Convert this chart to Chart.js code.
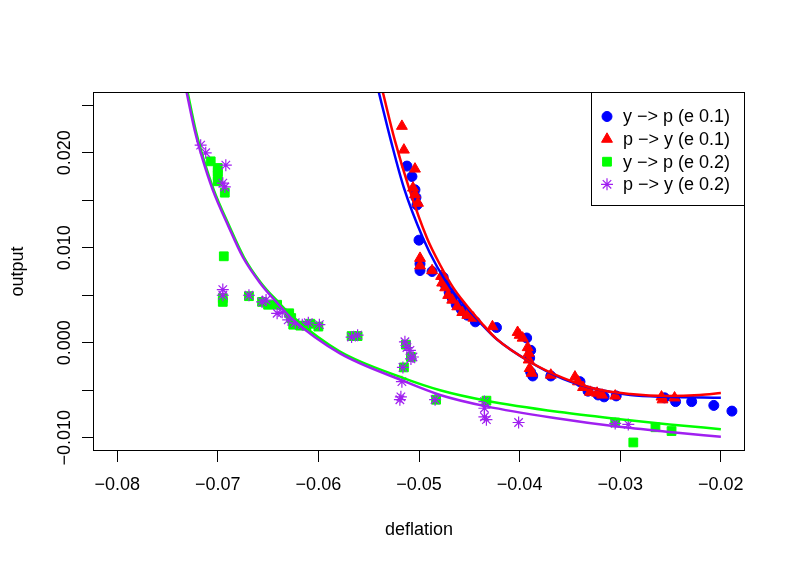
<!DOCTYPE html>
<html>
<head>
<meta charset="utf-8">
<script src="https://cdn.jsdelivr.net/npm/chart.js@4.4.0/dist/chart.umd.min.js"></script>
<style>
  body { margin: 0; background: #fff; }
  #wrap { width: 793px; height: 566px; }
</style>
</head>
<body>
<div id="wrap"><canvas id="chart" width="793" height="566"></canvas></div>
<script>
// === data: deflation (x) vs output (y) === //

const seriesLabels = ['y \u2212> p (e 0.1)', 'p \u2212> y (e 0.1)', 'y \u2212> p (e 0.2)', 'p \u2212> y (e 0.2)']
const seriesColors = ['#0000FF', '#FF0000', '#00FF00', '#A020F0']

const yToP1X = [-0.0512,-0.0507,-0.0504,-0.0503,-0.0502,-0.0500,-0.0499,-0.0499,-0.0487,-0.0476,-0.0474,-0.0470,-0.0467,-0.0463,-0.0458,-0.0452,-0.0444,-0.0423,-0.0393,-0.0389,-0.0390,-0.0389,-0.0387,-0.0369,-0.0340,-0.0332,-0.0322,-0.0316,-0.0304,-0.0256,-0.0245,-0.0229,-0.0207,-0.0189]
const yToP1Y = [0.0186,0.0175,0.0161,0.0153,0.0145,0.0108,0.0083,0.0076,0.0075,0.0069,0.0061,0.0053,0.0047,0.0040,0.0035,0.0029,0.0022,0.0016,0.0005,-0.0008,-0.0016,-0.0031,-0.0035,-0.0035,-0.0041,-0.0051,-0.0055,-0.0057,-0.0056,-0.0058,-0.0062,-0.0062,-0.0066,-0.0072]

const pToY1X = [-0.0517,-0.0515,-0.0504,-0.0506,-0.0504,-0.0501,-0.0499,-0.0499,-0.0487,-0.0478,-0.0477,-0.0474,-0.0471,-0.0467,-0.0462,-0.0457,-0.0452,-0.0446,-0.0427,-0.0402,-0.0400,-0.0397,-0.0392,-0.0391,-0.0391,-0.0390,-0.0388,-0.0369,-0.0345,-0.0342,-0.0337,-0.0330,-0.0323,-0.0318,-0.0305,-0.0259,-0.0258,-0.0246]
const pToY1Y = [0.0228,0.0203,0.0183,0.0163,0.0156,0.0147,0.0089,0.0081,0.0076,0.0070,0.0063,0.0058,0.0050,0.0045,0.0038,0.0032,0.0029,0.0026,0.0017,0.0011,0.0008,0.0005,-0.0005,-0.0011,-0.0018,-0.0027,-0.0032,-0.0034,-0.0036,-0.0041,-0.0047,-0.0052,-0.0053,-0.0055,-0.0056,-0.0057,-0.0060,-0.0058]

const yToP2X = [-0.0707,-0.0700,-0.0700,-0.0700,-0.0700,-0.0693,-0.0694,-0.0695,-0.0695,-0.0669,-0.0656,-0.0650,-0.0641,-0.0629,-0.0627,-0.0625,-0.0618,-0.0612,-0.0608,-0.0600,-0.0567,-0.0561,-0.0513,-0.0508,-0.0515,-0.0483,-0.0433,-0.0305,-0.0287,-0.0265,-0.0249]
const yToP2Y = [0.0191,0.0184,0.0180,0.0176,0.0170,0.0158,0.0091,0.0047,0.0043,0.0049,0.0043,0.0040,0.0040,0.0031,0.0026,0.0019,0.0018,0.0018,0.0020,0.0017,0.0007,0.0007,-0.0002,-0.0015,-0.0026,-0.0060,-0.0061,-0.0084,-0.0105,-0.0089,-0.0093]

const pToY2X = [-0.0717,-0.0712,-0.0692,-0.0695,-0.0693,-0.0695,-0.0695,-0.0669,-0.0656,-0.0652,-0.0641,-0.0636,-0.0630,-0.0623,-0.0616,-0.0610,-0.0599,-0.0567,-0.0561,-0.0514,-0.0512,-0.0509,-0.0506,-0.0508,-0.0516,-0.0517,-0.0519,-0.0518,-0.0484,-0.0435,-0.0435,-0.0435,-0.0433,-0.0401,-0.0305,-0.0292]
const pToY2Y = [0.0208,0.0200,0.0187,0.0168,0.0164,0.0056,0.0050,0.0050,0.0043,0.0045,0.0031,0.0032,0.0024,0.0021,0.0019,0.0021,0.0019,0.0006,0.0008,0.0001,-0.0005,-0.0008,-0.0015,-0.0017,-0.0026,-0.0041,-0.0060,-0.0057,-0.0060,-0.0062,-0.0069,-0.0078,-0.0081,-0.0084,-0.0085,-0.0086]

// fitted curves, read at a few points along each line
const fitYToP1X = [-0.0540,-0.0528,-0.0515,-0.0496,-0.0482,-0.0469,-0.0456,-0.0439,-0.0423,-0.0390,-0.0357,-0.0323,-0.0290,-0.0254,-0.0200]
const fitYToP1Y = [0.0264,0.0213,0.0163,0.0110,0.0080,0.0058,0.0041,0.0021,0.0004,-0.0020,-0.0038,-0.0049,-0.0055,-0.0057,-0.0058]
const fitPToY1X = [-0.0536,-0.0524,-0.0510,-0.0492,-0.0478,-0.0466,-0.0454,-0.0438,-0.0423,-0.0390,-0.0357,-0.0323,-0.0290,-0.0254,-0.0221,-0.0200]
const fitPToY1Y = [0.0264,0.0213,0.0163,0.0110,0.0080,0.0058,0.0041,0.0021,0.0004,-0.0020,-0.0037,-0.0049,-0.0054,-0.0056,-0.0055,-0.0053]
const fitYToP2X = [-0.0730,-0.0722,-0.0714,-0.0704,-0.0689,-0.0674,-0.0657,-0.0640,-0.0624,-0.0579,-0.0516,-0.0479,-0.0433,-0.0360,-0.0305,-0.0251,-0.0200]
const fitYToP2Y = [0.0264,0.0224,0.0193,0.0161,0.0124,0.0090,0.0063,0.0043,0.0026,-0.0009,-0.0037,-0.0050,-0.0061,-0.0073,-0.0080,-0.0086,-0.0091]
const fitPToY2X = [-0.0731,-0.0723,-0.0715,-0.0705,-0.0690,-0.0675,-0.0658,-0.0641,-0.0625,-0.0579,-0.0516,-0.0479,-0.0433,-0.0360,-0.0305,-0.0251,-0.0200]
const fitPToY2Y = [0.0264,0.0224,0.0193,0.0161,0.0124,0.0090,0.0063,0.0042,0.0024,-0.0011,-0.0040,-0.0055,-0.0067,-0.0080,-0.0088,-0.0094,-0.0099]

// axes
const xMin = -0.0824, xMax = -0.0176
const yMin = -0.0114, yMax = 0.0264
const xTickValues = [-0.08, -0.07, -0.06, -0.05, -0.04, -0.03, -0.02]
const yTickValues = [-0.010, -0.005, 0.000, 0.005, 0.010, 0.015, 0.020, 0.025]
const yLabelValues = [-0.010, 0.000, 0.010, 0.020]

// === chart === //

const FONT = '"Liberation Sans", Arial, Helvetica, sans-serif'
Chart.defaults.font.family = FONT
Chart.defaults.font.size = 18
Chart.defaults.color = '#000'

function fmt(v, digits) {
  const s = Math.abs(v).toFixed(digits)
  return (v < -1e-12 ? '\u2212' : '') + s
}

function zipXY(xs, ys) {
  return xs.map((x, i) => ({ x: x, y: ys[i] }))
}

const markers = [
  { style: 'circle', radius: 5, borderWidth: 1 },
  { style: 'triangle', radius: 6.3, borderWidth: 1 },
  { style: 'rect', radius: 6.2, borderWidth: 1 },
  { style: 'star', radius: 6, borderWidth: 1.2 }
]

const pointSets = [[yToP1X, yToP1Y], [pToY1X, pToY1Y], [yToP2X, yToP2Y], [pToY2X, pToY2Y]]
const curveSets = [[fitYToP1X, fitYToP1Y], [fitPToY1X, fitPToY1Y], [fitYToP2X, fitYToP2Y], [fitPToY2X, fitPToY2Y]]

// painting order like R: all points first, then the four curves
var datasets = []
pointSets.forEach((s, i) => {
  datasets.push({
    label: seriesLabels[i],
    data: zipXY(s[0], s[1]),
    showLine: false,
    pointStyle: markers[i].style,
    pointRadius: markers[i].radius,
    pointBorderWidth: markers[i].borderWidth,
    pointBackgroundColor: seriesColors[i],
    pointBorderColor: seriesColors[i],
    order: 20 - i
  })
})
curveSets.forEach((s, i) => {
  datasets.push({
    label: seriesLabels[i] + ' fit',
    data: zipXY(s[0], s[1]),
    showLine: true,
    pointRadius: 0,
    borderColor: seriesColors[i],
    borderWidth: 2.5,
    cubicInterpolationMode: 'monotone',
    order: 10 - i
  })
})

const frameAndText = {
  id: 'frameAndText',
  afterDraw(chart) {
    const ctx = chart.ctx
    const a = chart.chartArea
    ctx.save()
    ctx.strokeStyle = '#000'
    ctx.lineWidth = 1
    ctx.strokeRect(Math.round(a.left) + 0.5, Math.round(a.top) + 0.5,
      Math.round(a.right - a.left) - 1, Math.round(a.bottom - a.top) - 1)

    // y tick labels run up the axis, as in R
    ctx.fillStyle = '#000'
    ctx.font = '18px ' + FONT
    ctx.textAlign = 'center'
    ctx.textBaseline = 'middle'
    yLabelValues.forEach(v => {
      const py = chart.scales.y.getPixelForValue(v)
      ctx.save()
      ctx.translate(65, py)
      ctx.rotate(-Math.PI / 2)
      ctx.fillText(fmt(v, 3), 0, 0)
      ctx.restore()
    })

    // legend box in the top right corner
    const lx = 591, ly = 92, lw = a.right - 591, lh = 114
    ctx.fillStyle = '#fff'
    ctx.fillRect(lx, ly, lw, lh)
    ctx.strokeRect(lx + 0.5, ly + 0.5, lw - 1, lh - 1)
    ctx.textAlign = 'left'
    seriesLabels.forEach((label, i) => {
      const rowY = 116.5 + i * 22.6
      ctx.fillStyle = seriesColors[i]
      ctx.strokeStyle = seriesColors[i]
      ctx.lineWidth = markers[i].borderWidth
      Chart.helpers.drawPoint(ctx, {
        pointStyle: markers[i].style,
        radius: markers[i].radius,
        rotation: 0,
        borderWidth: markers[i].borderWidth
      }, 607, rowY)
      ctx.fillStyle = '#000'
      ctx.fillText(label, 623, rowY + 1)
    })
    ctx.restore()
  }
}

const tickGrid = {
  display: true,
  drawOnChartArea: false,
  drawTicks: true,
  tickLength: 11,
  color: '#000',
  tickColor: '#000',
  lineWidth: 1
}

new Chart(document.getElementById('chart'), {
  type: 'scatter',
  data: { datasets: datasets },
  options: {
    responsive: false,
    animation: false,
    layout: { padding: { top: 92, right: 48, left: 0, bottom: 0 } },
    plugins: {
      legend: { display: false },
      tooltip: { enabled: false }
    },
    scales: {
      x: {
        type: 'linear',
        min: xMin,
        max: xMax,
        afterBuildTicks: s => { s.ticks = xTickValues.map(v => ({ value: v })) },
        afterFit: s => { s.height = 115 },
        grid: tickGrid,
        border: { display: false },
        ticks: {
          autoSkip: false,
          maxRotation: 0,
          minRotation: 0,
          padding: 12,
          color: '#000',
          callback: v => fmt(v, 2)
        },
        title: {
          display: true,
          text: 'deflation',
          color: '#000',
          padding: { top: 0, bottom: 25 }
        }
      },
      y: {
        type: 'linear',
        min: yMin,
        max: yMax,
        afterBuildTicks: s => { s.ticks = yTickValues.map(v => ({ value: v })) },
        afterFit: s => { s.width = 93 },
        grid: tickGrid,
        border: { display: false },
        ticks: { display: false },
        title: {
          display: true,
          text: 'output',
          color: '#000',
          padding: { top: 7, bottom: 0 }
        }
      }
    }
  },
  plugins: [frameAndText]
})
</script>
</body>
</html>
